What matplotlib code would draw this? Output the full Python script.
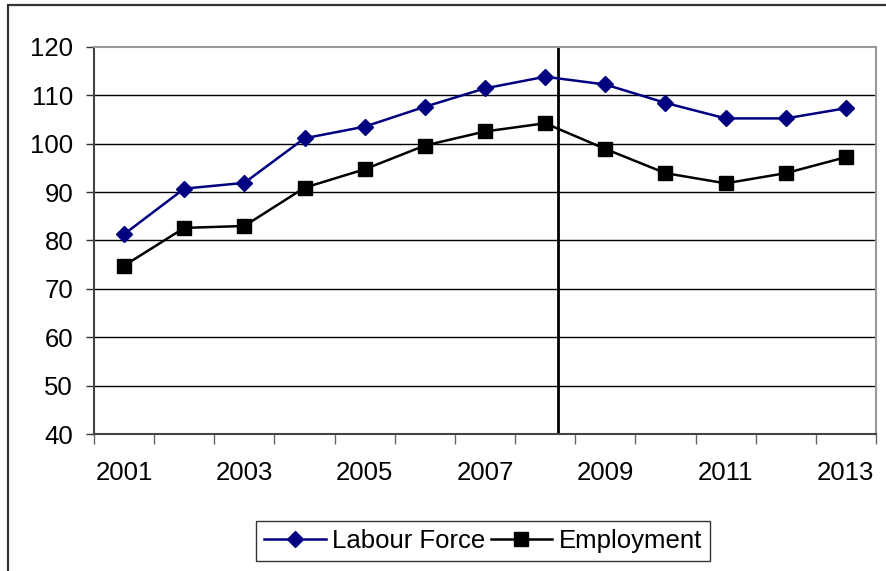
import matplotlib
matplotlib.use("Agg")
import matplotlib.pyplot as plt
from matplotlib.patches import Rectangle

plt.rcParams['font.family'] = ['Liberation Sans', 'DejaVu Sans']

years = [2001, 2002, 2003, 2004, 2005, 2006, 2007, 2008, 2009, 2010, 2011, 2012, 2013]
labour_force = [81.3, 90.7, 91.9, 101.1, 103.5, 107.6, 111.4, 113.8, 112.2, 108.4, 105.2, 105.2, 107.3]
employment = [74.8, 82.6, 83.0, 90.9, 94.7, 99.6, 102.5, 104.2, 98.9, 93.9, 91.8, 93.9, 97.2]
year_labels = [2001, 2003, 2005, 2007, 2009, 2011, 2013]
y_ticks = [40, 50, 60, 70, 80, 90, 100, 110, 120]
crisis_marker = 2008.21

W, H = 886, 571
fig = plt.figure(figsize=(W / 100, H / 100), dpi=100)
ax = fig.add_axes([94 / W, 1 - 434.3 / H, (876 - 94) / W, (434.3 - 46.7) / H])

# outer chart frame (only top and left edges fall inside the image)
fig.add_artist(Rectangle((8 / W, -0.2), 1.5, 1 - 5 / H + 0.2,
                         transform=fig.transFigure, fill=False,
                         edgecolor='#333333', linewidth=1.6))

ax.set_xlim(years[0] - 0.5, years[-1] + 0.5)
ax.set_ylim(40, 120)

for v in y_ticks[1:-1]:
    ax.axhline(v, color='black', linewidth=1.0, zorder=1)

ax.plot(years, labour_force, color='#000080', linewidth=1.8, marker='D',
        markersize=8.5, label='Labour Force', zorder=3)
ax.plot(years, employment, color='black', linewidth=1.8, marker='s',
        markersize=9.5, label='Employment', zorder=3)

ax.axvline(crisis_marker, color='black', linewidth=2.0, zorder=2)

ax.set_yticks(y_ticks)
ax.tick_params(axis='y', length=6, width=1, pad=9, labelsize=18.5, color='#333333')

boundaries = [y - 0.5 for y in years] + [years[-1] + 0.5]
ax.set_xticks(boundaries)
ax.set_xticklabels([])
ax.tick_params(axis='x', which='major', length=7, width=1, color='#666666')
ax.set_xticks(year_labels, minor=True)
ax.set_xticklabels([str(y) for y in year_labels], minor=True)
ax.tick_params(axis='x', which='minor', length=0, pad=19, labelsize=18.5)

ax.spines['left'].set_color('#444444')
ax.spines['left'].set_linewidth(1.5)
ax.spines['bottom'].set_color('#444444')
ax.spines['bottom'].set_linewidth(1.5)
ax.spines['top'].set_color('#999999')
ax.spines['top'].set_linewidth(1.5)
ax.spines['right'].set_color('#999999')
ax.spines['right'].set_linewidth(1.5)

leg = fig.legend(loc='center', bbox_to_anchor=(483 / W, 1 - 541 / H), ncol=2,
                 fontsize=18.5, frameon=True, fancybox=False, shadow=False,
                 edgecolor='black', handlelength=2.4, handletextpad=0.25,
                 columnspacing=0.2, borderpad=0.3, borderaxespad=0)
leg.get_frame().set_linewidth(1.0)

fig.savefig('out.png', dpi=100)
